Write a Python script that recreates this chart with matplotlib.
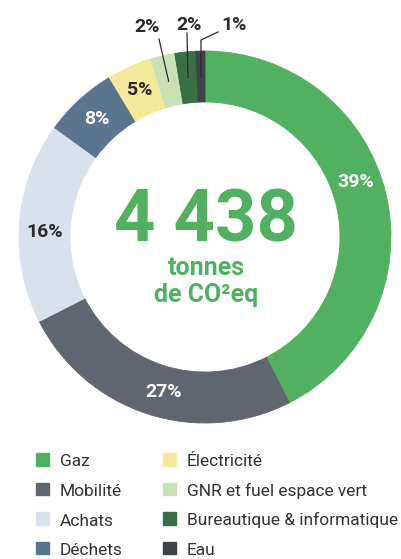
import numpy as np
import matplotlib
matplotlib.use("Agg")
import matplotlib.pyplot as plt

categories = ["Gaz", "Mobilité", "Achats", "Déchets", "Électricité",
              "GNR et fuel espace vert", "Bureautique & informatique", "Eau"]
values = [42.5, 25.0, 17.5, 6.4, 3.9, 2.1, 1.8, 0.8]
labels = ["39%", "27%", "16%", "8%", "5%", "2%", "2%", "1%"]
colors = ["#52b160", "#5f6670", "#d9e2ec", "#5a7590", "#f3e99a",
          "#c9e2b5", "#386f45", "#3e4249"]
label_colors = ["white", "white", "#2b2b2b", "white", "#2b2b2b",
                "#2b2b2b", "#2b2b2b", "#2b2b2b"]
total_text = "4 438"

FONT = "Roboto"
GREEN = "#52b160"

fig = plt.figure(figsize=(4.02, 5.59), dpi=100)
ax = fig.add_axes([19/402, 1-423/559, 372/402, 372/559])

width = 0.274
wedges, _ = ax.pie(values, colors=colors, startangle=90, counterclock=False,
                   radius=1.0, wedgeprops=dict(width=width, linewidth=0.6),
                   normalize=True)
for w, c in zip(wedges, colors):
    w.set_edgecolor(c)
ax.set_xlim(-1, 1)
ax.set_ylim(-1, 1)
ax.set_aspect("equal")
ax.axis("off")

# labels inside the ring
angle_nudge = [6.5, 3, 2.7, 0, 0, 0, 0, 0]
r_in = 1 - width / 2
for i, w in enumerate(wedges):
    mid = np.deg2rad((w.theta1 + w.theta2) / 2 + angle_nudge[i])
    x, y = r_in * np.cos(mid), r_in * np.sin(mid)
    if i < 5:
        ax.text(x, y, labels[i], ha="center", va="center", fontsize=14,
                fontweight="bold", color=label_colors[i], family=FONT)

# outside labels with leaders
def px(xp, yp):
    return ((xp - 205) / 186, (237 - yp) / 186)

outside = {
    5: (px(147, 27), [px(159, 39), None]),
    6: (px(189, 25), [px(187, 33), None]),
    7: (px(234, 25), [px(218, 32), px(200, 40)]),
}
for i, (tpos, pts) in outside.items():
    w = wedges[i]
    mid = np.deg2rad((w.theta1 + w.theta2) / 2)
    r_pt = 0.86
    end = (r_pt * np.cos(mid), r_pt * np.sin(mid))
    start = pts[0]
    path = [start]
    if pts[1] is not None:
        path.append((end[0], pts[1][1]))
    path.append(end)
    xs, ys = zip(*path)
    ax.plot(xs, ys, color="#2b2b2b", lw=0.9, clip_on=False)
    ax.text(tpos[0], tpos[1], labels[i], ha="center", va="center", fontsize=14,
            fontweight="bold", color="#2b2b2b", family=FONT, clip_on=False)

# center text
fig.text(206/402, 1-242/559, total_text, ha="center", va="baseline",
         fontsize=52, fontweight="bold", color=GREEN, family=FONT)
fig.text(206/402, 1-275/559, "tonnes", ha="center", va="baseline",
         fontsize=18, fontweight="bold", color=GREEN, family=FONT)
fig.text(206/402, 1-302/559, "de CO²eq", ha="center", va="baseline",
         fontsize=18, fontweight="bold", color=GREEN, family=FONT)

# legend
col_x = [36, 163]
row_base = [466.5, 496, 525.5, 555]
for i, (cat, c) in enumerate(zip(categories, colors)):
    col, row = divmod(i, 4)
    sx, sb = col_x[col], row_base[row]
    fig.patches.append(plt.Rectangle((sx/402, 1-(sb-1)/559), 13/402, 12.5/559,
                                     transform=fig.transFigure, color=c))
    fig.text((sx+24)/402, 1-sb/559, cat, ha="left", va="baseline",
             fontsize=12.5, color="#333333", family=FONT)

fig.savefig("out.png", dpi=100)
